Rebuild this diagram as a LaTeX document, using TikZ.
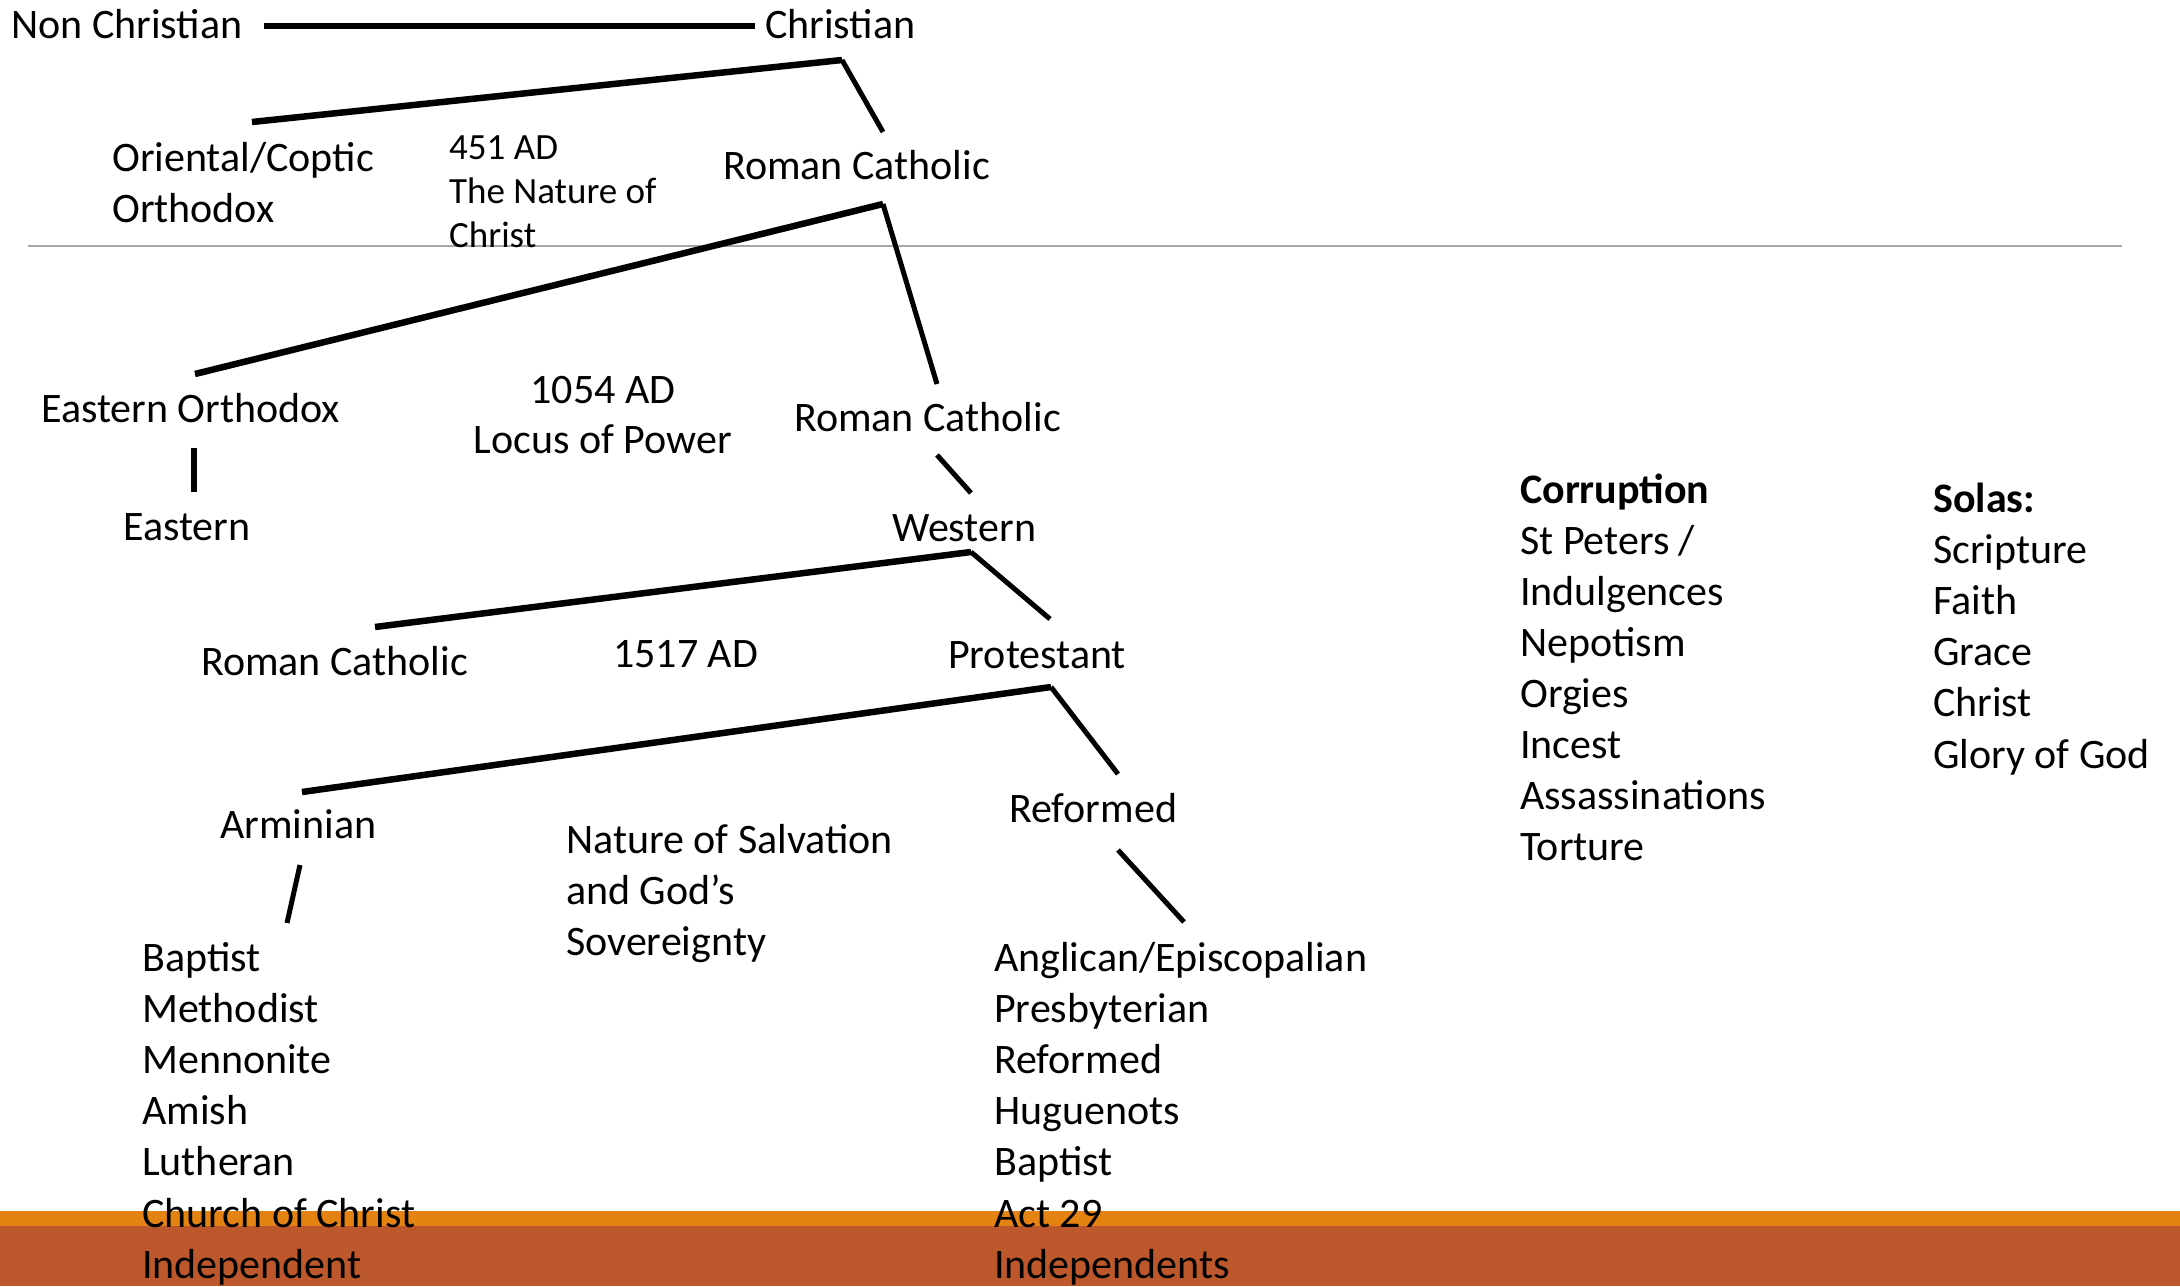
\documentclass[tikz,border=0pt]{standalone}
\usepackage{fontspec}
\setmainfont{Carlito}
\definecolor{orng}{HTML}{E48312}
\definecolor{rust}{HTML}{BD582C}
\definecolor{rulegray}{HTML}{A6A6A6}
\begin{document}
\begin{tikzpicture}[x=1pt,y=-1pt,
  txt/.style={anchor=base west, inner sep=0pt, font=\fontsize{42}{51}\selectfont},
  bld/.style={txt, font=\fontsize{42}{51}\selectfont\bfseries},
  sm/.style={anchor=base west, inner sep=0pt, font=\fontsize{37}{44}\selectfont},
  ctr/.style={anchor=base, inner sep=0pt, font=\fontsize{42}{51}\selectfont},
  longline/.style={line width=6.5pt},
  shortline/.style={line width=5pt},
  straightline/.style={line width=6pt}]
\useasboundingbox (0,0) rectangle (2180,1286);
% bottom bars
\fill[rust] (0,1226) rectangle (2180,1286);
\fill[orng] (0,1211) rectangle (2180,1226);
% divider
\draw[rulegray, line width=2pt] (28,246) -- (2122,246);

% texts
\node[txt] (nonchr) at (11,38) {Non Christian};
\node[txt] (chr) at (765,38) {Christian};
\node[txt] (orient1) at (112,171) {Oriental/Coptic};
\node[txt] (orient2) at (112,222) {Orthodox};
\node[sm] (ad451a) at (449,159) {451 AD};
\node[sm] (ad451b) at (449,203) {The Nature of};
\node[sm] (ad451c) at (449,247) {Christ};
\node[txt] (rc1) at (723,179) {Roman Catholic};
\node[txt] (eo) at (41,422) {Eastern Orthodox};
\node[ctr] (ad1054a) at (603,403) {1054 AD};
\node[ctr] (ad1054b) at (603,453) {Locus of Power};
\node[txt] (rc2) at (794,431) {Roman Catholic};
\node[txt] (east) at (123,540) {Eastern};
\node[txt] (west) at (892,541) {Western};
\node[txt] (rc3) at (201,675) {Roman Catholic};
\node[txt] (ad1517) at (613,667) {1517 AD};
\node[txt] (prot) at (948,668) {Protestant};
\node[txt] (armin) at (220,838) {Arminian};
\node[txt] (nat1) at (566,853) {Nature of Salvation};
\node[txt] (nat2) at (566,904) {and God’s};
\node[txt] (nat3) at (566,955) {Sovereignty};
\node[txt] (reform) at (1009,822) {Reformed};

\foreach \t [count=\i from 0] in {Baptist,Methodist,Mennonite,Amish,Lutheran,Church of Christ,Independent}
  \node[txt] (al\i) at (142,971+51.2*\i) {\t};
\foreach \t [count=\i from 0] in {Anglican/Episcopalian,Presbyterian,Reformed,Huguenots,Baptist,Act 29,Independents}
  \node[txt] (rl\i) at (994,971+51.2*\i) {\t};

\node[bld] (corr) at (1520,503) {Corruption};
\foreach \t [count=\i from 1] in {St Peters /,Indulgences,Nepotism,Orgies,Incest,Assassinations,Torture}
  \node[txt] (co\i) at (1520,503+51*\i) {\t};

\node[bld] (solas) at (1933,512) {Solas:};
\foreach \t [count=\i from 1] in {Scripture,Faith,Grace,Christ,Glory of God}
  \node[txt] (so\i) at (1933,512+51.2*\i) {\t};

% connector points
\coordinate (nca) at (264,25.5);
\coordinate (ncb) at (755,25.5);
\coordinate (ap1) at (842,60);
\coordinate (ap1l) at (252,122);
\coordinate (ap1r) at (883,132);
\coordinate (ap2) at (883,204);
\coordinate (ap2l) at (195,374);
\coordinate (ap2r) at (937,384);
\coordinate (eoa) at (194,448);
\coordinate (eob) at (194,492);
\coordinate (rwa) at (937,455);
\coordinate (rwb) at (971,493);
\coordinate (ap3) at (971,552);
\coordinate (ap3l) at (375,627);
\coordinate (ap3r) at (1050,619);
\coordinate (ap4) at (1051,687);
\coordinate (ap4l) at (302,792);
\coordinate (ap4r) at (1118,774);
\coordinate (aba) at (300,865);
\coordinate (abb) at (287,923);
\coordinate (raa) at (1118,850);
\coordinate (rab) at (1184,922);

% connectors
\draw[straightline] (nca) -- (ncb);
\draw[longline] (ap1l) -- (ap1);
\draw[shortline] (ap1) -- (ap1r);
\draw[longline] (ap2l) -- (ap2);
\draw[shortline] (ap2) -- (ap2r);
\draw[straightline] (eoa) -- (eob);
\draw[shortline] (rwa) -- (rwb);
\draw[longline] (ap3l) -- (ap3);
\draw[shortline] (ap3) -- (ap3r);
\draw[longline] (ap4l) -- (ap4);
\draw[shortline] (ap4) -- (ap4r);
\draw[shortline] (aba) -- (abb);
\draw[shortline] (raa) -- (rab);
\end{tikzpicture}
\end{document}
